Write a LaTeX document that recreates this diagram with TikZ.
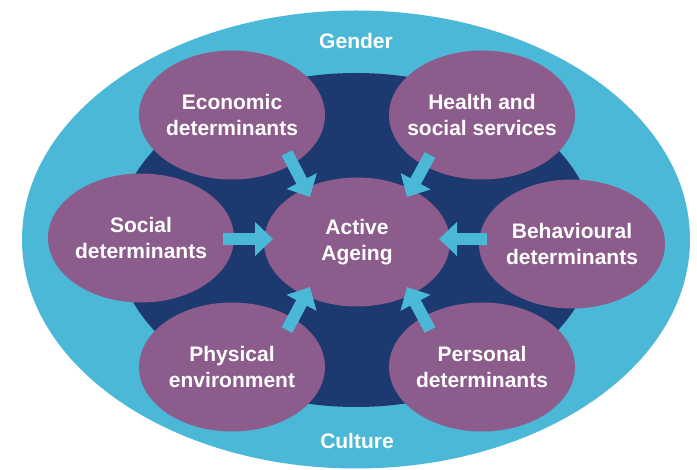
\documentclass[tikz,border=0pt]{standalone}
\usepackage{fontspec}
\setmainfont{Liberation Sans}
\usetikzlibrary{shapes.geometric,arrows.meta}
\definecolor{lightblue}{RGB}{75,184,216}
\definecolor{navy}{RGB}{28,57,112}
\definecolor{plum}{RGB}{140,92,140}
\tikzset{
  txt/.style={text=white,font=\bfseries\fontsize{21}{26.5}\selectfont,align=center},
  blob/.style={ellipse,fill=plum,draw=none,inner sep=0pt,minimum width=186pt,minimum height=129pt},
  blk/.style={draw=lightblue,line width=12pt,-{Triangle[width=33pt,length=18pt]},line cap=butt,lightblue}
}
\begin{document}
\begin{tikzpicture}[x=1pt,y=-1pt]
\useasboundingbox (0,0) rectangle (697,470);
\fill[lightblue] (356,239.5) ellipse [x radius=334, y radius=229];
\fill[navy] (356,240) ellipse [x radius=240, y radius=167];
\node[blob,label={[txt]center:Economic\\determinants}] (econ) at (232,115) {};
\node[blob,label={[txt]center:Health and\\social services}] (health) at (482,115) {};
\node[blob,label={[txt]center:Social\\determinants}] (social) at (141,238) {};
\node[blob,label={[txt]center:Behavioural\\determinants}] (behav) at (572,244) {};
\node[blob,label={[txt]center:Physical\\environment}] (phys) at (232,367) {};
\node[blob,label={[txt]center:Personal\\determinants}] (pers) at (482,367) {};
\node[blob,label={[txt]center:Active\\Ageing}] (active) at (357,242) {};
\node[txt] (gender) at (356,41) {Gender};
\node[txt] (culture) at (357,441) {Culture};
% arrow ends
\coordinate (s1) at (287,153); \coordinate (t1) at (310,197);
\coordinate (s2) at (430,155); \coordinate (t2) at (407,197);
\coordinate (s3) at (223,239); \coordinate (t3) at (273,239);
\coordinate (s4) at (487,239); \coordinate (t4) at (439,239);
\coordinate (s5) at (287,330); \coordinate (t5) at (310,287);
\coordinate (s6) at (430,330); \coordinate (t6) at (407,287);
\draw[blk] (s1) -- (t1);
\draw[blk] (s2) -- (t2);
\draw[blk] (s3) -- (t3);
\draw[blk] (s4) -- (t4);
\draw[blk] (s5) -- (t5);
\draw[blk] (s6) -- (t6);
\end{tikzpicture}
\end{document}
